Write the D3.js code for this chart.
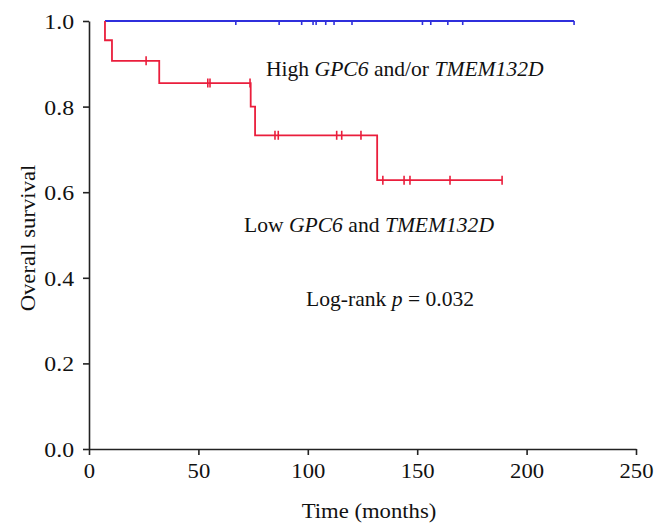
<!DOCTYPE html>
<html>
<head>
<meta charset="utf-8">
<script src="https://cdn.jsdelivr.net/npm/d3@7"></script>
<style>
html,body{margin:0;padding:0;background:#fff;}
text{font-family:"Liberation Serif","DejaVu Serif",serif;fill:#111;}
</style>
</head>
<body>
<svg id="chart" width="662" height="530"></svg>
<script>
// High GPC6 and/or TMEM132D (blue): no events
const highStart = 7.3;
const highEnd = 221.7;
const highCensor = [67.1, 86.9, 97.2, 102.4, 103.8, 108.2, 112.0, 120.2, 152.4, 156.2, 164.0, 170.8, 221.7];

// Low GPC6 and TMEM132D (red): event times and survival after each event
const lowEventTimes = [7.3, 10.5, 32.1, 73.9, 75.9, 131.7];
const lowSurvival   = [0.955, 0.907, 0.855, 0.800, 0.733, 0.628];
const lowEnd = 188.8;
const lowCensor = [26.1, 54.3, 55.3, 73.6, 85.0, 86.5, 113.2, 115.5, 124.3, 134.3, 144.0, 146.7, 165.0, 188.8];

const xTicks = [0, 50, 100, 150, 200, 250];
const yTicks = [0, 0.2, 0.4, 0.6, 0.8, 1.0];

const SX = 1.08; // horizontal stretch to mimic the wider original serif face

const svg = d3.select("#chart");
const x = d3.scaleLinear().domain([0, 250]).range([89, 636]);
const y = d3.scaleLinear().domain([0, 1]).range([449, 21]);

// axes
const xAxis = d3.axisBottom(x).tickValues(xTicks).tickSize(6).tickSizeOuter(0).tickFormat(d3.format("d"));
const gx = svg.append("g").attr("transform", "translate(0,449)").call(xAxis);
const yAxis = d3.axisLeft(y).tickValues(yTicks).tickSize(6).tickSizeOuter(0).tickFormat(d3.format(".1f"));
const gy = svg.append("g").attr("transform", "translate(89,0)").call(yAxis);
[gx, gy].forEach(g => {
  g.select(".domain").attr("stroke", "#222").attr("stroke-width", 1.6);
  g.selectAll(".tick line").attr("stroke", "#222").attr("stroke-width", 1.6);
  g.selectAll(".tick text").attr("font-family", "Liberation Serif").attr("font-size", 21).attr("fill", "#111");
});
gx.selectAll(".tick text").attr("y", 0).attr("dy", 0)
  .attr("transform", `translate(0,29) scale(${SX},1)`);
gy.selectAll(".tick text").attr("x", 0).attr("dy", "0.34em").attr("font-size", 22)
  .attr("transform", `translate(-15,0) scale(${SX},1)`);

// step curves
function stepPoints(start, times, surv, end) {
  const pts = [[start, 1]];
  let s = 1;
  times.forEach((t, i) => { pts.push([t, s]); s = surv[i]; pts.push([t, s]); });
  pts.push([end, s]);
  return pts;
}
const line = d3.line().x(d => x(d[0])).y(d => y(d[1]));

function survAt(t, times, surv) {
  let s = 1;
  times.forEach((tt, i) => { if (tt <= t) s = surv[i]; });
  return s;
}

const blue = "#2f2fdc", red = "#ea1e3c";
svg.append("path").attr("d", line([[highStart, 1], [highEnd, 1]])).attr("fill", "none").attr("stroke", blue).attr("stroke-width", 1.8);
svg.selectAll(".hc").data(highCensor).enter().append("line")
  .attr("x1", d => x(d)).attr("x2", d => x(d))
  .attr("y1", y(1)).attr("y2", y(1) + 4)
  .attr("stroke", blue).attr("stroke-width", 1.6);

const lowPts = stepPoints(highStart, lowEventTimes, lowSurvival, lowEnd);
svg.append("path").attr("d", line(lowPts)).attr("fill", "none").attr("stroke", red).attr("stroke-width", 1.8);
svg.selectAll(".lc").data(lowCensor).enter().append("line")
  .attr("x1", d => x(d)).attr("x2", d => x(d))
  .attr("y1", d => y(survAt(d, lowEventTimes, lowSurvival)) - 4.5)
  .attr("y2", d => y(survAt(d, lowEventTimes, lowSurvival)) + 4.5)
  .attr("stroke", red).attr("stroke-width", 1.6);

// labels
function label(x0, y0, size, parts, anchor) {
  const t = svg.append("text").attr("transform", `translate(${x0},${y0}) scale(${SX},1)`)
    .attr("font-size", size).attr("text-anchor", anchor || "start");
  parts.forEach(p => t.append("tspan").attr("font-style", p[1] ? "italic" : "normal").text(p[0]));
  return t;
}
label(266, 76, 20, [["High ", 0], ["GPC6", 1], [" and/or ", 0], ["TMEM132D", 1]]);
label(244, 232, 20, [["Low ", 0], ["GPC6", 1], [" and ", 0], ["TMEM132D", 1]]);
label(306, 306, 20, [["Log-rank ", 0], ["p", 1], [" = 0.032", 0]]);
label(369, 518, 21, [["Time (months)", 0]], "middle");
svg.append("text").attr("transform", `translate(35,238) rotate(-90) scale(${SX},1)`)
  .attr("text-anchor", "middle").attr("font-size", 21).text("Overall survival");
</script>
</body>
</html>
